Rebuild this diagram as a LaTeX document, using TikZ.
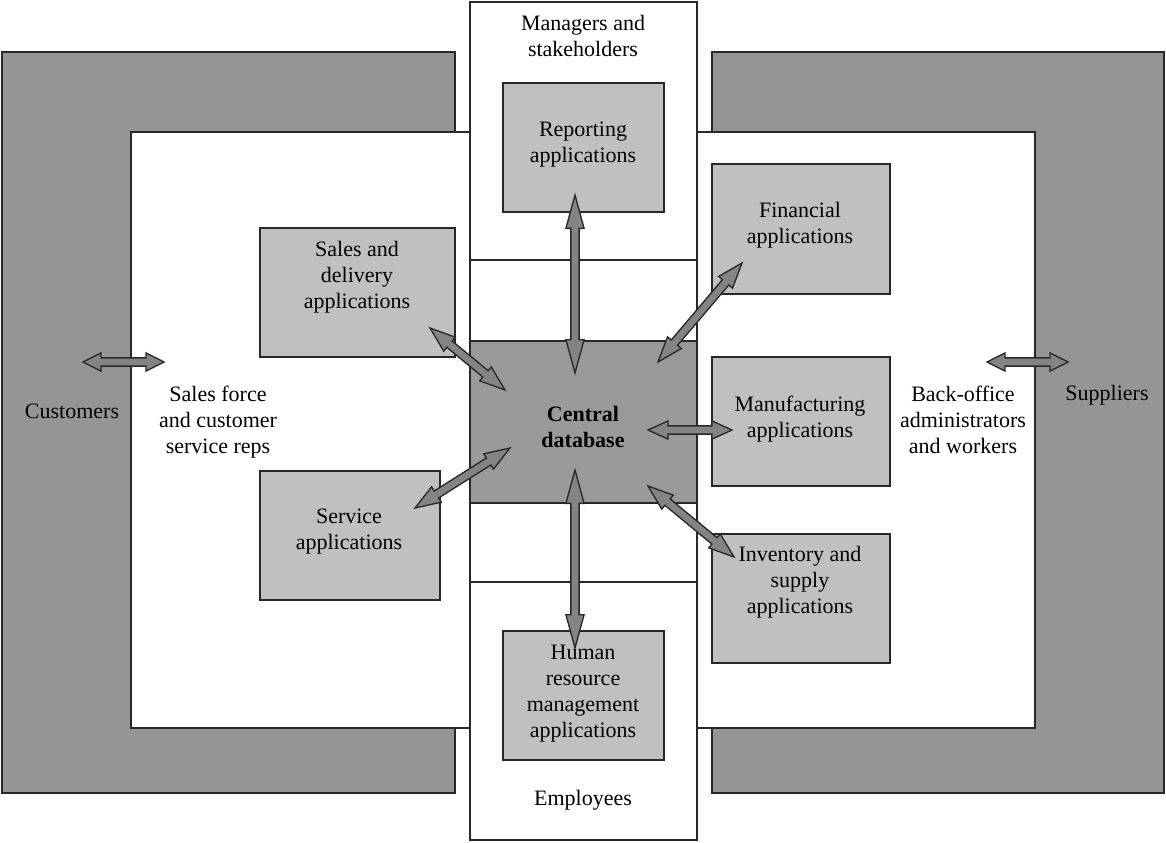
\documentclass[tikz,border=0pt]{standalone}
\usepackage{fontspec}
\setmainfont{Liberation Serif}
\usetikzlibrary{calc}

\definecolor{regiongray}{RGB}{149,149,149}
\definecolor{boxgray}{RGB}{192,192,192}
\definecolor{dbgray}{RGB}{154,154,154}
\definecolor{arrowgray}{RGB}{132,132,132}
\definecolor{edgegray}{RGB}{40,40,40}

\tikzset{
  region/.style={draw=edgegray, line width=1.2pt, fill=regiongray},
  whitezone/.style={draw=edgegray, line width=1pt, fill=white},
  appbox/.style={draw=edgegray, line width=1pt, fill=boxgray, inner sep=0pt, minimum height=96.75pt},
  lbl/.style={align=center, inner sep=0pt, font=\fontsize{16.5}{19.5}\selectfont},
  blockarrow/.style={draw=edgegray, line width=1pt, fill=arrowgray, line join=miter}
}

% fat double-headed arrow between two named points, #1 = head length
\newcommand{\fatarrow}[3][16pt]{%
  \path ($(#2)!#1!(#3)$) coordinate (fa1) ($(#3)!#1!(#2)$) coordinate (fa2);
  \draw[blockarrow] (#2) -- ($(fa1)!6.8pt!90:(#3)$) -- ($(fa1)!3.1pt!90:(#3)$)
    -- ($(fa2)!3.1pt!-90:(#2)$) -- ($(fa2)!6.8pt!-90:(#2)$) -- (#3)
    -- ($(fa2)!6.8pt!90:(#2)$) -- ($(fa2)!3.1pt!90:(#2)$)
    -- ($(fa1)!3.1pt!-90:(#3)$) -- ($(fa1)!6.8pt!-90:(#3)$) -- cycle;}

\begin{document}
\begin{tikzpicture}[x=0.75pt,y=0.75pt,yscale=-1,xscale=1]
\useasboundingbox (0,0) rectangle (1166,842);

%Shape: outer regions
\draw[region] (2,52) rectangle (455,793);
\draw[region] (712,52) rectangle (1164,793);
\draw[whitezone] (131,132) rectangle (470,728);
\draw[whitezone] (697,132) rectangle (1035,728);

%Shape: centre column
\draw[whitezone] (470,2) rectangle (697,840);
\draw[edgegray, line width=1pt] (470,260) -- (697,260);
\draw[edgegray, line width=1pt] (470,582) -- (697,582);

%Shape: application boxes
\node[appbox, fill=dbgray, minimum width=170.25pt, minimum height=121.5pt] (db) at (583.5,422) {};
\node[appbox, minimum width=120.75pt] (rep) at (583.5,147.5) {};
\node[appbox, minimum width=146.25pt] (sales) at (357.5,292.5) {};
\node[appbox, minimum width=135pt] (serv) at (350,535.5) {};
\node[appbox, minimum width=133.5pt, minimum height=97.5pt] (fin) at (801,229) {};
\node[appbox, minimum width=133.5pt] (manu) at (801,421.5) {};
\node[appbox, minimum width=133.5pt] (inv) at (801,598.5) {};
\node[appbox, minimum width=120.75pt] (hr) at (583.5,695.5) {};

% Text Node
\node[lbl] (mgr) at (583,36) {Managers and\\stakeholders};
\node[lbl] (replbl) at (583,144.5) {Reporting\\applications};
\node[lbl] (saleslbl) at (357,277) {Sales and\\delivery\\applications};
\node[lbl] (servlbl) at (349,531.5) {Service\\applications};
\node[lbl] (finlbl) at (800,225.5) {Financial\\applications};
\node[lbl] (manulbl) at (800,419) {Manufacturing\\applications};
\node[lbl] (invlbl) at (800,582.5) {Inventory and\\supply\\applications};
\node[lbl] (hrlbl) at (583,693.5) {Human\\resource\\management\\applications};
\node[lbl, font=\fontsize{16.5}{19.5}\selectfont\bfseries] (dblbl) at (583,427) {Central\\database};
\node[lbl] (cust) at (72,411) {Customers};
\node[lbl] (force) at (218,422) {Sales force\\and customer\\service reps};
\node[lbl] (back) at (963,420) {Back-office\\administrators\\and workers};
\node[lbl] (supp) at (1107,395) {Suppliers};
\node[lbl] (emp) at (583,800) {Employees};

%Arrow end points
\coordinate (cust-a) at (83,362);
\coordinate (cust-b) at (164,362);
\coordinate (supp-a) at (987,362);
\coordinate (supp-b) at (1068,362);
\coordinate (db-n) at (575,373);
\coordinate (rep-s) at (575,195);
\coordinate (db-s) at (575,470);
\coordinate (hr-n) at (575,648);
\coordinate (db-nw) at (505,390);
\coordinate (sales-se) at (430,328);
\coordinate (db-sw) at (510,448);
\coordinate (serv-ne) at (415,508);
\coordinate (db-ne) at (658,362);
\coordinate (fin-sw) at (742,263);
\coordinate (db-e) at (648,430);
\coordinate (manu-w) at (732,430);
\coordinate (db-se) at (648,486);
\coordinate (inv-nw) at (734,557);

%Arrows
\fatarrow[13.5pt]{cust-a}{cust-b}
\fatarrow[13.5pt]{supp-a}{supp-b}
\fatarrow[25pt]{db-n}{rep-s}
\fatarrow[25pt]{db-s}{hr-n}
\fatarrow[19pt]{db-nw}{sales-se}
\fatarrow[19pt]{db-sw}{serv-ne}
\fatarrow[19pt]{db-ne}{fin-sw}
\fatarrow[15pt]{db-e}{manu-w}
\fatarrow[19pt]{db-se}{inv-nw}

\end{tikzpicture}
\end{document}
